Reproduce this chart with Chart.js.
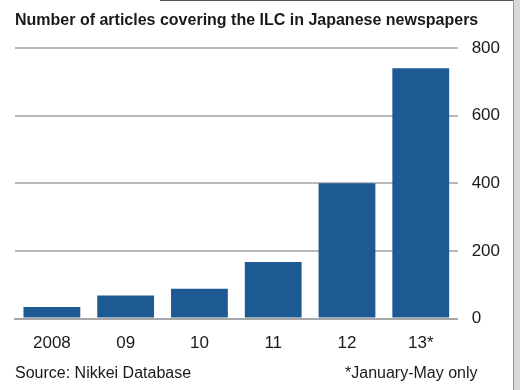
<!DOCTYPE html>
<html>
<head>
<meta charset="utf-8">
<script src="https://cdn.jsdelivr.net/npm/chart.js@4/dist/chart.umd.min.js"></script>
<style>
  html, body { margin: 0; padding: 0; background: #fff; }
  #wrap { position: relative; width: 520px; height: 390px; overflow: hidden;
          font-family: "Liberation Sans", Arial, sans-serif; color: #1a1a1a; }
  #edge { position: absolute; right: 0; top: 0; width: 6px; height: 390px;
          background: #d8d8d8; border-left: 1px solid #9a9a9a; }
  #topline { position: absolute; left: 160px; top: 0; width: 360px; height: 1px; background: #555; }
  .title { position: absolute; left: 15px; top: 11px; font-size: 16px; font-weight: bold; }
  .note { position: absolute; top: 364px; font-size: 16px; }
  canvas { position: absolute; left: 0; top: 0; }
</style>
</head>
<body>
<div id="wrap">
  <canvas id="chart" width="520" height="390"></canvas>
  <div class="title">Number of articles covering the ILC in Japanese newspapers</div>
  <div class="note" style="left:15px">Source: Nikkei Database</div>
  <div class="note" style="left:345px">*January-May only</div>
  <div id="topline"></div>
  <div id="edge"></div>
</div>
<script>
// article counts per year (2013 covers January-May only)
const years = ['2008', '09', '10', '11', '12', '13*'];
const articles = [34, 68, 88, 167, 400, 740];
const yTicks = [0, 200, 400, 600, 800];

const ctx = document.getElementById('chart');
new Chart(ctx, {
  type: 'bar',
  data: {
    labels: years,
    datasets: [{
      label: 'Articles',
      data: articles,
      backgroundColor: '#1d5a94',
      borderWidth: 0,
      barPercentage: 0.77,
      categoryPercentage: 1
    }]
  },
  options: {
    responsive: false,
    animation: false,
    layout: { padding: { left: 15, top: 48, right: 6, bottom: 21 } },
    plugins: { legend: { display: false }, tooltip: { enabled: false } },
    scales: {
      x: {
        grid: { display: false, drawTicks: false },
        border: { display: true, color: '#a8a8a8', width: 2 },
        ticks: {
          padding: 15,
          color: '#1a1a1a',
          font: { family: 'Liberation Sans', size: 17 }
        }
      },
      y: {
        position: 'right',
        min: 0,
        max: 800,
        afterBuildTicks: axis => { axis.ticks = yTicks.map(v => ({ value: v })); },
        grid: { color: '#b8b8b8', lineWidth: 2, drawTicks: false },
        border: { display: false },
        ticks: {
          padding: 14,
          color: '#1a1a1a',
          font: { family: 'Liberation Sans', size: 17 }
        }
      }
    }
  }
});
</script>
</body>
</html>
